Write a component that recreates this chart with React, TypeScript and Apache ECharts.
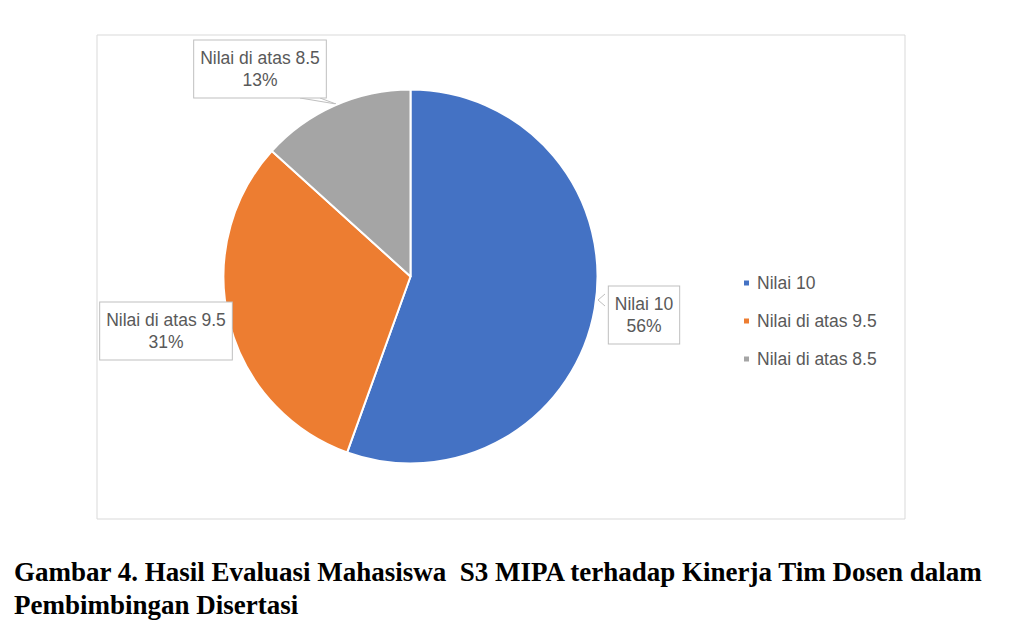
import React, { useEffect, useRef } from "react";
import * as echarts from "echarts";

const categories = ["Nilai 10", "Nilai di atas 9.5", "Nilai di atas 8.5"];
const values = [55.5, 31.2, 13.3];
const colors = ["#4472c4", "#ed7d31", "#a5a5a5"];
const captionLines = [
  "Gambar 4. Hasil Evaluasi Mahasiswa  S3 MIPA terhadap Kinerja Tim Dosen dalam",
  "Pembimbingan Disertasi",
];

// label box centres, picked by eye
const labelPos = [
  [644, 315],
  [166, 331],
  [260, 69],
];

const App: React.FC = () => {
  const chartRef = useRef<HTMLDivElement>(null);

  useEffect(() => {
    if (!chartRef.current) return;
    const chart = echarts.init(chartRef.current, undefined, { renderer: "svg" });

    const option: echarts.EChartsOption = {
      animation: false,
      backgroundColor: "#ffffff",
      color: colors,
      legend: {
        orient: "vertical",
        left: 737,
        top: 268,
        itemWidth: 7,
        itemHeight: 7,
        itemGap: 18,
        icon: "rect",
        data: categories,
        textStyle: {
          fontFamily: "Liberation Sans",
          fontSize: 17.5,
          lineHeight: 20,
          color: "#595959",
          padding: [0, 0, 0, 2],
        },
      },
      graphic: [
        {
          type: "rect",
          shape: { x: 97, y: 35, width: 808, height: 484 },
          style: { fill: "none", stroke: "#d9d9d9", lineWidth: 1 },
          z: -1,
        },
        ...captionLines.map((t, i) => ({
          type: "text" as const,
          left: 14,
          top: 558 + i * 33,
          style: {
            text: t,
            fontFamily: "Liberation Serif",
            fontWeight: "bold" as const,
            fontSize: 27,
            fill: "#000000",
          },
        })),
      ],
      series: [
        {
          type: "pie",
          center: [410.5, 276.5],
          radius: 187,
          startAngle: 90,
          clockwise: true,
          percentPrecision: 0,
          itemStyle: { borderColor: "#ffffff", borderWidth: 2 },
          data: categories.map((name, i) => ({ name, value: values[i] })),
          label: {
            show: true,
            formatter: "{b}\n{d}%",
            fontFamily: "Liberation Sans",
            fontSize: 17.5,
            lineHeight: 22,
            color: "#595959",
            align: "center",
            backgroundColor: "#ffffff",
            borderColor: "#bfbfbf",
            borderWidth: 1,
            padding: [7, 6, 6, 6],
          },
          labelLine: {
            show: true,
            lineStyle: { color: "#bfbfbf", width: 1 },
          },
          labelLayout: (params: any) => {
            const [x, y] = labelPos[params.dataIndex];
            const pts: Record<number, number[][]> = {
              0: [[605, 306], [598, 300], [605, 294]],
              1: [[236, 331], [232, 331]],
              2: [[300, 98], [336, 104], [320, 98]],
            };
            return {
              x,
              y,
              align: "center",
              verticalAlign: "middle",
              labelLinePoints: pts[params.dataIndex],
            };
          },
          emphasis: { disabled: true },
        },
      ],
    };

    chart.setOption(option);

    return () => {
      chart.dispose();
    };
  }, []);

  return (
    <div
      ref={chartRef}
      style={{ position: "fixed", left: 0, top: 0, width: 1024, height: 638 }}
    />
  );
};

export default App;
